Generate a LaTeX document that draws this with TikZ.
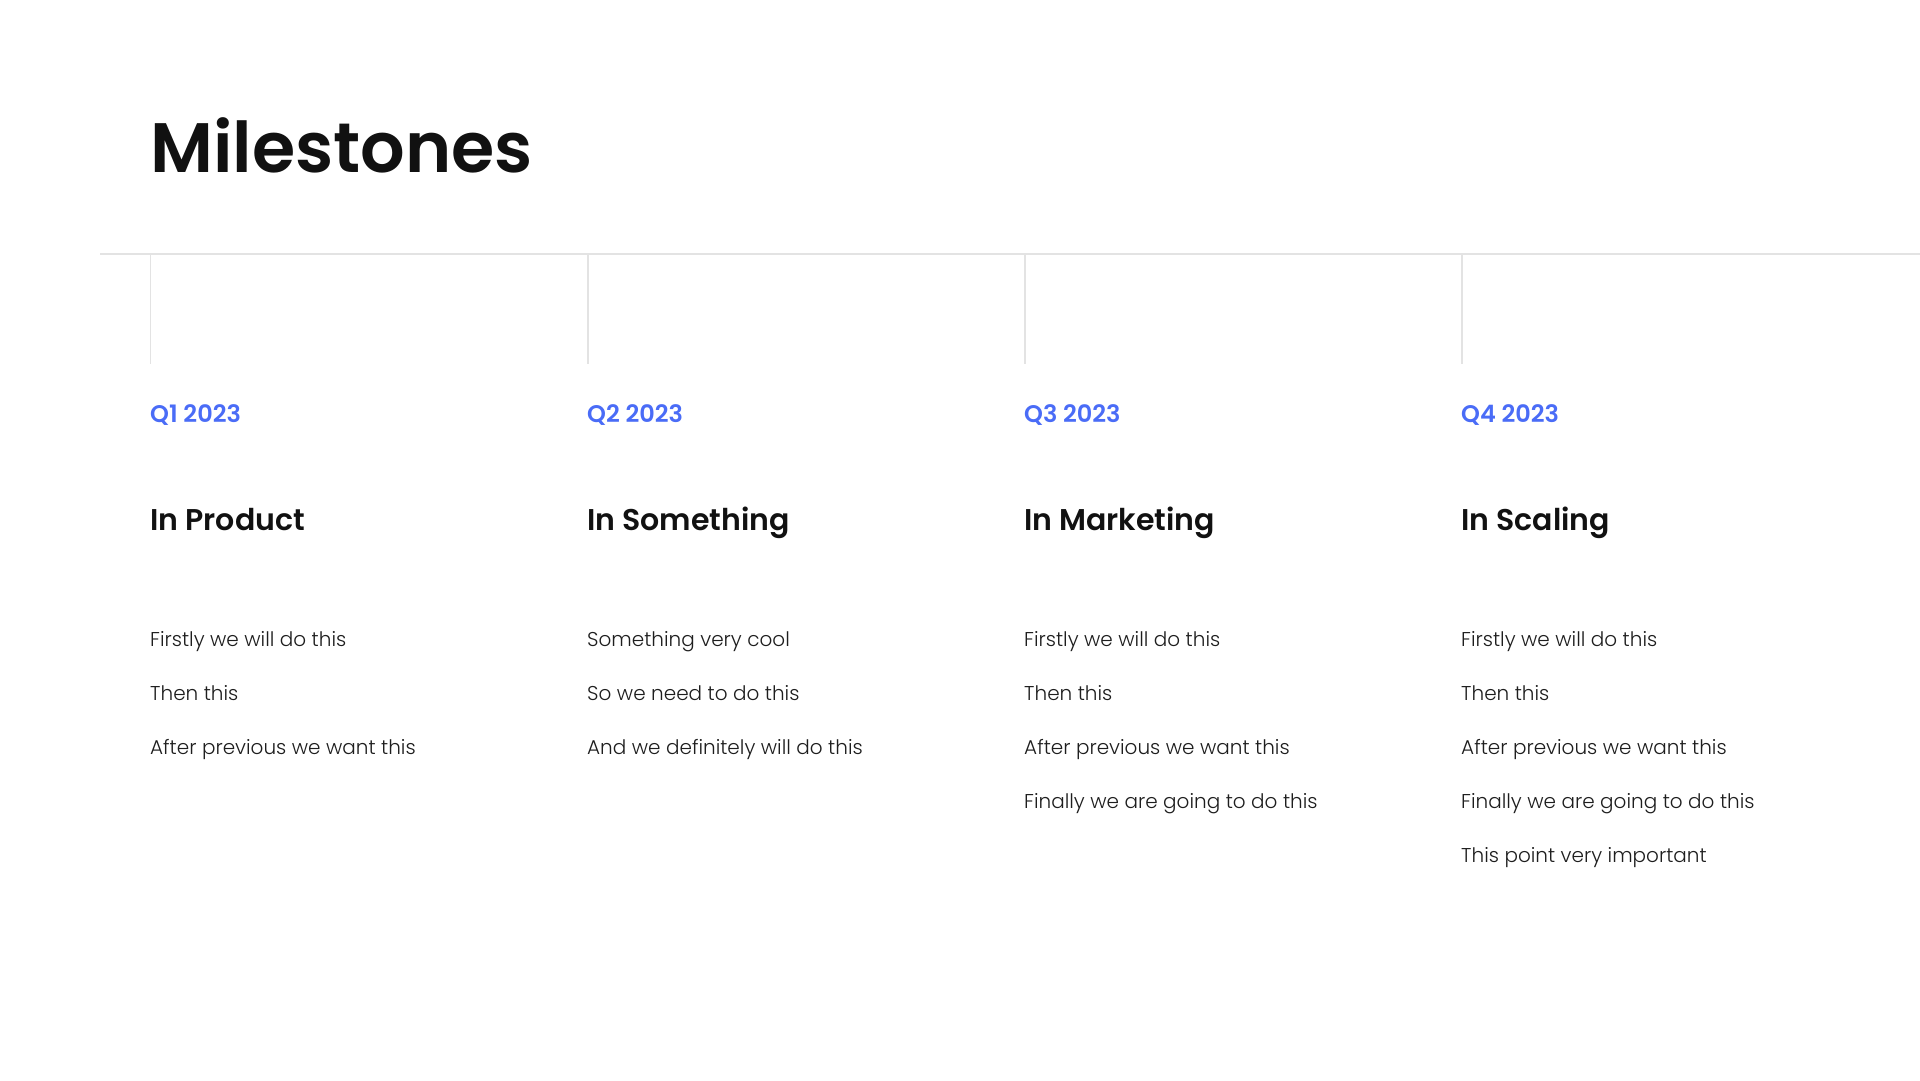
\documentclass[tikz,border=0pt]{standalone}
\usepackage{fontspec}
\setmainfont{Poppins}[UprightFont=* Light, BoldFont=* SemiBold]
\newfontfamily\popsemi{Poppins SemiBold}
\usetikzlibrary{positioning}
\definecolor{qblue}{HTML}{4A6CF7}
\definecolor{ink}{HTML}{111111}
\definecolor{bodyink}{HTML}{1E1E1E}
\definecolor{rule}{HTML}{E3E3E3}
\tikzset{
  title/.style={anchor=base west, inner sep=0pt, text=ink, font=\popsemi\fontsize{70}{80}\selectfont},
  quarter/.style={anchor=base west, inner sep=0pt, text=qblue, font=\popsemi\fontsize{24}{28}\selectfont},
  heading/.style={anchor=base west, inner sep=0pt, text=ink, font=\popsemi\fontsize{30}{34}\selectfont},
  item/.style={anchor=base west, inner sep=0pt, text=bodyink, font=\fontsize{20}{24}\selectfont},
  rulestyle/.style={draw=rule, line width=1.6pt}
}
\begin{document}
\begin{tikzpicture}[x=1pt,y=-1pt]
\useasboundingbox (0,0) rectangle (1920,1080);
\fill[white] (0,0) rectangle (1920,1080);
\node[title] (t) at (150,172.5) {Milestones};
\coordinate (hl) at (100,254);
\coordinate (hr) at (1920,254);
\draw[rulestyle] (hl) -- (hr);
\foreach \i/\x in {1/150.6,2/587.8,3/1025,4/1462.2}{
  \coordinate (top\i) at (\x,254);
  \coordinate (bot\i) at (\x,364);
  \draw[rulestyle] (top\i) -- (bot\i);
}
% column 1
\node[quarter] (q1) at (150,422.7) {Q1 2023};
\node[heading] (h1) at (150,530.7) {In Product};
\node[item] (a1) at (150,646) {Firstly we will do this};
\node[item] (a2) at (150,700) {Then this};
\node[item] (a3) at (150,754) {After previous we want this};
% column 2
\node[quarter] (q2) at (587,422.7) {Q2 2023};
\node[heading] (h2) at (587,530.7) {In Something};
\node[item] (b1) at (587,646) {Something very cool};
\node[item] (b2) at (587,700) {So we need to do this};
\node[item] (b3) at (587,754) {And we definitely will do this};
% column 3
\node[quarter] (q3) at (1024,422.7) {Q3 2023};
\node[heading] (h3) at (1024,530.7) {In Marketing};
\node[item] (c1) at (1024,646) {Firstly we will do this};
\node[item] (c2) at (1024,700) {Then this};
\node[item] (c3) at (1024,754) {After previous we want this};
\node[item] (c4) at (1024,808) {Finally we are going to do this};
% column 4
\node[quarter] (q4) at (1461,422.7) {Q4 2023};
\node[heading] (h4) at (1461,530.7) {In Scaling};
\node[item] (d1) at (1461,646) {Firstly we will do this};
\node[item] (d2) at (1461,700) {Then this};
\node[item] (d3) at (1461,754) {After previous we want this};
\node[item] (d4) at (1461,808) {Finally we are going to do this};
\node[item] (d5) at (1461,862) {This point very important};
\end{tikzpicture}
\end{document}
